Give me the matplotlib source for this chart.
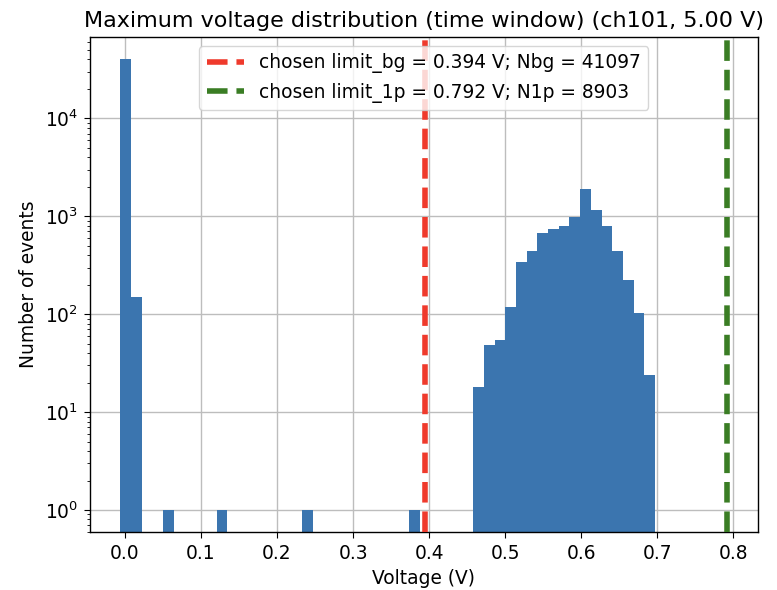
import numpy as np
from matplotlib import pyplot as plt

# histogram of the max voltage per event
v_min = -0.006
v_max = 0.697
n_bins = 50
counts = [40943, 150, 0, 0, 1, 0, 0, 0, 0, 1,
          0, 0, 0, 0, 0, 0, 0, 1, 0, 0,
          0, 0, 0, 0, 0, 0, 0, 1, 0, 0,
          0, 0, 0, 18, 48, 55, 118, 341, 442, 670,
          750, 800, 990, 1904, 1170, 802, 442, 225, 104, 24]

limit_bg = 0.394
n_bg = 41097
limit_1p = 0.792
n_1p = 8903
channel = "ch101"
bias = 5.00

edges = np.linspace(v_min, v_max, n_bins + 1)
centers = 0.5 * (edges[:-1] + edges[1:])

fig = plt.figure(figsize=(7.77, 5.90), dpi=100)
ax = fig.add_axes([0.1158, 0.0983, 0.8593, 0.8395])

ax.hist(centers, bins=edges, weights=counts, color='#3b75af', log=True, zorder=2)
ax.axvline(limit_bg, color='#ef3a2c', linestyle='--', linewidth=4, zorder=3,
           label='chosen limit_bg = %.3f V; Nbg = %d' % (limit_bg, n_bg))
ax.axvline(limit_1p, color='#3a7d24', linestyle='--', linewidth=4, zorder=3,
           label='chosen limit_1p = %.3f V; N1p = %d' % (limit_1p, n_1p))

ax.set_yscale('log')
ax.set_ylim(10 ** -0.225, 10 ** 4.835)
ax.set_xticks(np.arange(0, 0.81, 0.1))
ax.grid(True, which='major', color='#bdbdbd', linewidth=1.0, zorder=0)
ax.set_axisbelow(True)
ax.tick_params(which='major', labelsize=13.4, length=4.2, pad=4.2)
ax.tick_params(which='minor', length=2.4)
for sp in ax.spines.values():
    sp.set_linewidth(1.0)

ax.set_title('Maximum voltage distribution (time window) (%s, %.2f V)' % (channel, bias),
             fontsize=16.0, pad=7)
ax.set_xlabel('Voltage (V)', fontsize=13.4, labelpad=4.8)
ax.set_ylabel('Number of events', fontsize=13.4, labelpad=4.8)
ax.legend(loc='upper center', fontsize=13.4)

fig.savefig('out.png', dpi=100)
